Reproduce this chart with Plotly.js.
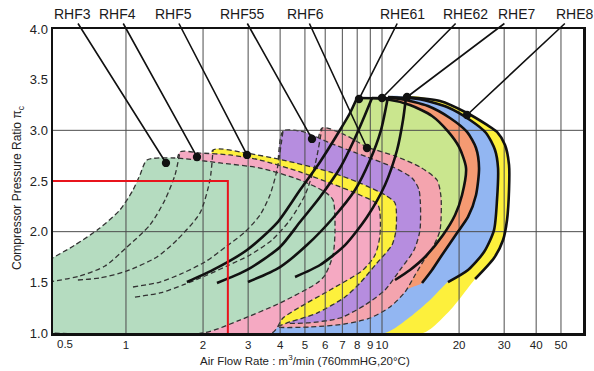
<!DOCTYPE html>
<html><head><meta charset="utf-8">
<script src="https://cdn.plot.ly/plotly-3.0.1.min.js"></script>
<style>html,body{margin:0;padding:0;background:#fff}#chart{width:594px;height:371px}</style>
</head><body><div id="chart"></div>
<script>
// ---------- axis ticks ----------
const xTicks = [0.5,1,2,3,4,5,6,7,8,9,10,20,30,40,50];
const yTicks = [1.0,1.5,2.0,2.5,3.0,3.5,4.0];
const yGrid = [2.0,3.0];

// ---------- RHF series (dashed outlines) ----------
const rhf3SurgeFlow  = [0.5,0.632,0.791,0.947,1.065,1.134,1.208];
const rhf3SurgeRatio = [1.72,1.868,2.036,2.214,2.411,2.559,2.707];
const rhf3EdgeFlow   = [1.554,2.329,3.337,4.782,5.99,6.437,6.553,6.437,5.99,5.574,3.996,2.788,2.0,0.5];
const rhf3EdgeRatio  = [2.727,2.678,2.628,2.51,2.391,2.313,2.016,1.77,1.572,1.493,1.296,1.128,1.0,1.0];

const rhf4SurgeFlow  = [0.5,0.661,0.828,1.0,1.241,1.42,1.554,1.625];
const rhf4SurgeRatio = [1.503,1.5625,1.661,1.839,2.066,2.313,2.559,2.786];
const rhf4EdgeFlow   = [1.945,2.548,3.337,4.782,6.265,8.205,9.65,9.82,9.39,8.43,6.265,4.782,4.105,3.718,0.5];
const rhf4EdgeRatio  = [2.776,2.757,2.707,2.589,2.48,2.362,2.263,1.967,1.77,1.622,1.424,1.257,1.148,1.0,1.0];

const rhf5SurgeFlow  = [0.649,0.791,1.009,1.321,1.582,1.945,2.128,2.187];
const rhf5SurgeRatio = [1.523,1.543,1.612,1.75,1.918,2.184,2.51,2.806];
const rhf5EdgeFlow   = [2.943,4.105,6.265,8.205,10.27,11.24,11.34,10.94,9.56,8.205,7.17,5.574,4.372,3.586,1.945];
const rhf5EdgeRatio  = [2.776,2.707,2.589,2.48,2.362,2.283,2.016,1.868,1.691,1.493,1.355,1.197,1.109,1.049,1.227];

const rhf55SurgeFlow  = [1.065,1.358,1.67,2.035,2.48,2.916,3.337,3.652,3.89,4.105];
const rhf55SurgeRatio = [1.454,1.503,1.592,1.701,1.859,1.997,2.164,2.362,2.609,2.993];
const rhf55EdgeFlow   = [4.782,5.328,6.265,8.737,11.04,13.1,13.95,14.07,13.34,11.76,10.27,8.58,6.855,5.09,3.652,1.945];
const rhf55EdgeRatio  = [2.993,2.954,2.875,2.737,2.638,2.53,2.411,2.016,1.819,1.622,1.424,1.276,1.148,1.099,1.109,1.326];

const rhf6SurgeFlow  = [1.084,1.358,1.67,2.035,2.48,3.05,3.718,4.372,5.003,5.474,5.83];
const rhf6SurgeRatio = [1.355,1.395,1.474,1.5625,1.661,1.77,1.918,2.115,2.362,2.658,3.023];
const rhf6EdgeFlow   = [7.17,8.737,11.24,14.07,16.4,17.0,16.85,15.96,14.59,13.46,12.3,10.75,8.98,7.17,5.233,3.82,1.945];
const rhf6EdgeRatio  = [2.954,2.836,2.747,2.638,2.51,2.342,2.016,1.868,1.72,1.572,1.405,1.257,1.148,1.089,1.059,1.059,1.207];

// ---------- RHE series (solid outlines) ----------
const rhe61SurgeFlow  = [1.73,2.187,2.97,3.89,4.782,5.726,6.855,7.499,7.986];
const rhe61SurgeRatio = [1.503,1.622,1.819,2.086,2.411,2.688,3.003,3.171,3.319];
const rhe61ChokeFlow  = [10.27,12.86,15.68,18.1,19.99,21.29,20.54,19.29,17.31,14.72,12.86,11.24];
const rhe61ChokeRatio = [3.309,3.25,3.142,2.99,2.836,2.628,2.362,2.164,1.967,1.75,1.622,1.523];
const rhe61BaseFlow   = [7.499,3.05];
const rhe61BaseRatio  = [1.424,1.405];

const rhe62SurgeFlow  = [2.267,2.97,3.996,4.782,5.726,6.855,7.844,8.58,9.14];
const rhe62SurgeRatio = [1.493,1.622,1.849,2.095,2.342,2.628,2.924,3.151,3.319];
const rhe62ChokeFlow  = [11.76,15.12,18.43,21.48,23.29,23.93,23.29,21.67,19.63,17.15,15.68,14.33];
const rhe62ChokeRatio = [3.309,3.24,3.122,2.984,2.826,2.628,2.362,2.145,1.987,1.77,1.622,1.493];
const rhe62BaseFlow   = [12.86,10.75,7.499,3.05];
const rhe62BaseRatio  = [1.444,1.375,1.326,1.375];

const rhe7SurgeFlow  = [2.996,3.996,5.09,6.437,7.844,8.98,9.91,10.55];
const rhe7SurgeRatio = [1.503,1.651,1.868,2.135,2.411,2.707,3.003,3.329];
const rhe7ChokeFlow  = [13.82,17.94,22.07,25.49,27.63,28.39,28.13,27.38,25.02,21.67,18.1];
const rhe7ChokeRatio = [3.309,3.23,3.102,2.974,2.806,2.628,2.313,2.016,1.799,1.622,1.503];
const rhe7BaseFlow   = [15.4,12.86,10.27,3.19];
const rhe7BaseRatio  = [1.326,1.158,1.0,1.0];

const rhe8SurgeFlow  = [4.574,5.726,7.17,8.737,10.27,11.45,12.08,12.41];
const rhe8SurgeRatio = [1.553,1.671,1.868,2.145,2.461,2.806,3.102,3.329];
const rhe8ChokeFlow  = [16.85,21.48,25.72,28.13,30.23,31.34,31.34,30.78,29.7,27.38,23.09];
const rhe8ChokeRatio = [3.289,3.171,3.053,2.984,2.855,2.658,2.411,2.115,1.918,1.74,1.533];
const rhe8BaseFlow   = [18.94,15.82,14.46,4.782];
const rhe8BaseRatio  = [1.257,1.059,1.0,1.0];

// ---------- red operating line ----------
const redFlow  = [0.5,2.5,2.5];
const redRatio = [2.5,2.5,1.0];

// ---------- model labels and their marker points ----------
const modelNames = ['RHF3','RHF4','RHF5','RHF55','RHF6','RHE61','RHE62','RHE7','RHE8'];
const dotFlow  = [1.433,1.894,2.97,5.328,8.737,8.13,10.0,12.52,21.48];
const dotRatio = [2.678,2.737,2.757,2.915,2.826,3.309,3.319,3.329,3.151];

// ---------- layout geometry ----------
const L=53, T=29, W=530, H=304, XR=[-0.285,1.785], YR=[1,4];
const labelPx = [72,118,174,242,305,402,465,517,575];
const labelPy = 14;
function px(f){return L+(Math.log10(f)-XR[0])/(XR[1]-XR[0])*W;}
function py(r){return T+(YR[1]-r)/(YR[1]-YR[0])*H;}

const FONT = 'Liberation Sans, Arial, sans-serif';
const SP = {shape:'spline', smoothing:0.7};

function region(fx, fy, color, dashed){
  return {type:'scatter', mode:'lines', x:fx, y:fy, fill:'toself', fillcolor:color,
    line: dashed ? Object.assign({color:'#333', width:1.3, dash:'5px,3px'}, SP)
                 : Object.assign({color:color, width:0}, SP),
    hoverinfo:'skip', showlegend:false};
}
function curve(fx, fy, color, width, dash){
  return {type:'scatter', mode:'lines', x:fx, y:fy,
    line: Object.assign({color:color, width:width, dash:dash||'solid'}, SP),
    hoverinfo:'skip', showlegend:false};
}
const cat = (...a)=>[].concat(...a);

const traces = [];
// RHE regions (back)
traces.push(region(cat(rhe8SurgeFlow,rhe8ChokeFlow,rhe8BaseFlow), cat(rhe8SurgeRatio,rhe8ChokeRatio,rhe8BaseRatio), '#fdf03c', false));
traces.push(region(cat(rhe7SurgeFlow,rhe7ChokeFlow,rhe7BaseFlow), cat(rhe7SurgeRatio,rhe7ChokeRatio,rhe7BaseRatio), '#92b6f2', false));
traces.push(region(cat(rhe62SurgeFlow,rhe62ChokeFlow,rhe62BaseFlow), cat(rhe62SurgeRatio,rhe62ChokeRatio,rhe62BaseRatio), '#f59a72', false));
traces.push(region(cat(rhe61SurgeFlow,rhe61ChokeFlow,rhe61BaseFlow), cat(rhe61SurgeRatio,rhe61ChokeRatio,rhe61BaseRatio), '#cae68e', false));
// RHF regions (front)
traces.push(region(cat(rhf6SurgeFlow,rhf6EdgeFlow), cat(rhf6SurgeRatio,rhf6EdgeRatio), '#f4a4ae', true));
traces.push(region(cat(rhf55SurgeFlow,rhf55EdgeFlow), cat(rhf55SurgeRatio,rhf55EdgeRatio), '#b68ddf', true));
traces.push(region(cat(rhf5SurgeFlow,rhf5EdgeFlow), cat(rhf5SurgeRatio,rhf5EdgeRatio), '#fdf03c', true));
traces.push(region(cat(rhf4SurgeFlow,rhf4EdgeFlow), cat(rhf4SurgeRatio,rhf4EdgeRatio), '#f5a9c2', true));
traces.push(region(cat(rhf3SurgeFlow,rhf3EdgeFlow), cat(rhf3SurgeRatio,rhf3EdgeRatio), '#b5dcc0', true));

// grid lines (drawn over fills)
const gx=[], gy=[];
xTicks.slice(1).forEach(t=>{gx.push(t,t,null); gy.push(YR[0],YR[1],null);});
yGrid.forEach(g=>{gx.push(0.5,70,null); gy.push(g,g,null);});
traces.push({type:'scatter', mode:'lines', x:gx, y:gy, line:{color:'#4d4d4d', width:1}, hoverinfo:'skip', showlegend:false});

// dashed surge lines of RHF models seen through front regions
traces.push(curve(rhf4SurgeFlow, rhf4SurgeRatio, '#333', 1.3, '5px,3px'));
traces.push(curve(rhf5SurgeFlow, rhf5SurgeRatio, '#333', 1.3, '5px,3px'));
traces.push(curve(rhf55SurgeFlow, rhf55SurgeRatio, '#333', 1.3, '5px,3px'));
traces.push(curve(rhf6SurgeFlow, rhf6SurgeRatio, '#333', 1.3, '5px,3px'));

// solid RHE surge and choke lines
[[rhe61SurgeFlow,rhe61SurgeRatio,rhe61ChokeFlow,rhe61ChokeRatio],
 [rhe62SurgeFlow,rhe62SurgeRatio,rhe62ChokeFlow,rhe62ChokeRatio],
 [rhe7SurgeFlow,rhe7SurgeRatio,rhe7ChokeFlow,rhe7ChokeRatio],
 [rhe8SurgeFlow,rhe8SurgeRatio,rhe8ChokeFlow,rhe8ChokeRatio]].forEach(s=>{
  traces.push(curve(s[0], s[1], '#111', 2.6));
  traces.push(curve([s[0][s[0].length-1]].concat(s[2]), [s[1][s[1].length-1]].concat(s[3]), '#111', 2.6));
});

// red line
traces.push({type:'scatter', mode:'lines', x:redFlow, y:redRatio, line:{color:'#e8141c', width:2}, hoverinfo:'skip', showlegend:false});

// annotations
const annotations = modelNames.map((n,i)=>({
  x: Math.log10(dotFlow[i]), y: dotRatio[i], xref:'x', yref:'y',
  text: n, showarrow:true, arrowhead:6, arrowsize:1.3, arrowwidth:1.6, arrowcolor:'#111',
  ax: labelPx[i]-px(dotFlow[i]), ay: labelPy-py(dotRatio[i]),
  font:{family:FONT, size:14, color:'#1a1a1a'}, standoff:0
}));
annotations.push({xref:'paper', yref:'paper', x:0.004, y:0, yanchor:'top', yshift:-3, showarrow:false,
  text:'0.5', font:{family:FONT, size:11.5, color:'#222'}});
annotations.push({xref:'paper', yref:'paper', x:(305-L)/W, y:(T+H-360)/H, xanchor:'center', yanchor:'middle', showarrow:false,
  text:'Air Flow Rate : m<sup>3</sup>/min (760mmHG,20°C)', font:{family:FONT, size:11.5, color:'#222'}});
annotations.push({xref:'paper', yref:'paper', x:(18-L)/W, y:(T+H-188)/H, xanchor:'center', yanchor:'middle', textangle:-90, showarrow:false,
  text:'Compressor Pressure Ratio π<sub>c</sub>', font:{family:FONT, size:12, color:'#222'}});

const layout = {
  width:594, height:371, margin:{l:L, r:594-L-W, t:T, b:371-T-H},
  paper_bgcolor:'#fff', plot_bgcolor:'#fff', showlegend:false,
  xaxis:{type:'log', range:XR, tickmode:'array', tickvals:xTicks, ticktext:xTicks.map(String),
    tickangle:0, showgrid:false, zeroline:false, showline:true, mirror:true, linecolor:'#111', linewidth:2.5,
    ticks:'', tickfont:{family:FONT, size:11.5, color:'#222'}},
  yaxis:{range:YR, tickmode:'array', tickvals:yTicks, ticktext:yTicks.map(v=>v.toFixed(1)),
    showgrid:false, zeroline:false, showline:true, mirror:true, linecolor:'#111', linewidth:2.5,
    ticks:'', tickfont:{family:FONT, size:13, color:'#222'}},
  annotations: annotations
};
Plotly.newPlot('chart', traces, layout, {staticPlot:true, displayModeBar:false});
</script></body></html>
